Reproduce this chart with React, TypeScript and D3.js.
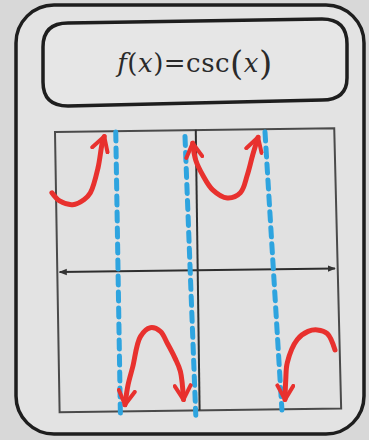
import React from "react";
import * as d3 from "d3";

// hand-drawn csc(x) sketch, x in units of pi, y in function units
const leftBranch: [number, number][] = [
  [-1.88, 1.07], [-1.78, 0.96], [-1.61, 0.91], [-1.46, 0.98], [-1.38, 1.07],
  [-1.28, 1.41], [-1.23, 1.72], [-1.2, 1.83],
];
const upperU: [number, number][] = [
  [-0.05, 1.74], [-0.01, 1.51], [0.08, 1.31], [0.21, 1.11], [0.4, 1.0],
  [0.57, 1.07], [0.66, 1.31], [0.73, 1.58], [0.8, 1.82],
];
const lowerCap: [number, number][] = [
  [-0.93, -1.79], [-0.89, -1.52], [-0.83, -1.28], [-0.73, -0.87], [-0.6, -0.75],
  [-0.47, -0.8], [-0.38, -0.96], [-0.28, -1.16], [-0.21, -1.34], [-0.17, -1.72],
];
const rightBranch: [number, number][] = [
  [1.15, -1.72], [1.16, -1.45], [1.18, -1.22], [1.31, -0.91], [1.45, -0.8],
  [1.57, -0.78], [1.7, -0.83], [1.8, -1.05],
];
// asymptotes: [x at top, y top, x at bottom, y bottom]
const asymptotes: [number, number, number, number][] = [
  [-1.05, 1.89, -0.99, -1.91],
  [-0.15, 1.83, -0.01, -1.93],
  [0.89, 1.89, 1.11, -1.86],
];
// grid box corners (photo is slightly skewed)
const boxCorners: [number, number][] = [
  [-1.84, 1.89], [1.79, 1.94], [1.88, -1.84], [-1.78, -1.89],
];
const xAxisEnds: [number, number][] = [[-1.78, 0.0], [1.8, 0.05]];
const yAxisEnds: [number, number][] = [[-0.01, 1.92], [0.04, -1.86]];

const W = 369;
const H = 440;
const RED = "#e8312e";
const BLUE = "#2ea4df";

export default function App() {
  const x = d3.scaleLinear().domain([-1.84, 1.8]).range([55, 335]);
  const y = d3.scaleLinear().domain([-1.86, 1.89]).range([410, 132]);

  const curve = d3
    .line<[number, number]>()
    .x((d) => x(d[0]))
    .y((d) => y(d[1]))
    .curve(d3.curveCatmullRom.alpha(0.5));
  const straight = d3
    .line<[number, number]>()
    .x((d) => x(d[0]))
    .y((d) => y(d[1]));

  return (
    <svg
      width={W}
      height={H}
      style={{ position: "absolute", left: 0, top: 0, background: "#d8d8d8" }}
    >
      <defs>
        <marker id="redArrow" viewBox="0 0 10 10" refX="8" refY="5" markerWidth="4" markerHeight="4" orient="auto-start-reverse" markerUnits="strokeWidth">
          <path d="M1,1 L8,5 L1,9" fill="none" stroke={RED} strokeWidth="2" strokeLinecap="round" strokeLinejoin="round" />
        </marker>
        <marker id="axisArrow" viewBox="0 0 10 10" refX="9" refY="5" markerWidth="4" markerHeight="4" orient="auto-start-reverse">
          <path d="M0,1 L10,5 L0,9 z" fill="#333" />
        </marker>
      </defs>

      {/* outer card */}
      <rect x={16} y={5} width={348} height={429} rx={38} fill="#e3e3e3" stroke="#1e1e1e" strokeWidth={3.5} />

      {/* formula box */}
      <path
        d="M68,23 L322,19 Q347,19 347,44 L347,78 Q347,100 322,100 L68,106 Q43,106 43,82 L43,47 Q43,23 68,23 Z"
        fill="#e6e6e6"
        stroke="#1e1e1e"
        strokeWidth={3.5}
      />
      <text
        x={195}
        y={72}
        textAnchor="middle"
        fontFamily="'DejaVu Serif', 'Liberation Serif', serif"
        fontSize={26}
        letterSpacing={0.5}
        fill="#2a2a2a"
      >
        <tspan fontStyle="italic">f</tspan>
        <tspan>(</tspan>
        <tspan fontStyle="italic">x</tspan>
        <tspan>)=csc</tspan>
        <tspan fontSize={34} dy={3}>(</tspan>
        <tspan fontStyle="italic" fontSize={26} dy={-3}>x</tspan>
        <tspan fontSize={34} dy={3}>)</tspan>
      </text>

      {/* grid box */}
      <path
        d={straight(boxCorners)! + "Z"}
        fill="#e1e1e1"
        stroke="#4a4a4a"
        strokeWidth={2}
      />
      <path d={straight(xAxisEnds)!} stroke="#2e2e2e" strokeWidth={2} markerStart="url(#axisArrow)" markerEnd="url(#axisArrow)" />
      <path d={straight(yAxisEnds)!} stroke="#2e2e2e" strokeWidth={2} />

      {/* asymptotes */}
      {asymptotes.map((a, i) => (
        <line
          key={i}
          x1={x(a[0])}
          y1={y(a[1])}
          x2={x(a[2])}
          y2={y(a[3])}
          stroke={BLUE}
          strokeWidth={5}
          strokeDasharray="9 7"
          strokeLinecap="round"
        />
      ))}

      {/* csc branches */}
      <g fill="none" stroke={RED} strokeWidth={5} strokeLinecap="round" strokeLinejoin="round">
        <path d={curve(leftBranch)!} markerEnd="url(#redArrow)" />
        <path d={curve(upperU)!} markerStart="url(#redArrow)" markerEnd="url(#redArrow)" />
        <path d={curve(lowerCap)!} markerStart="url(#redArrow)" markerEnd="url(#redArrow)" />
        <path d={curve(rightBranch)!} markerStart="url(#redArrow)" />
      </g>
    </svg>
  );
}
